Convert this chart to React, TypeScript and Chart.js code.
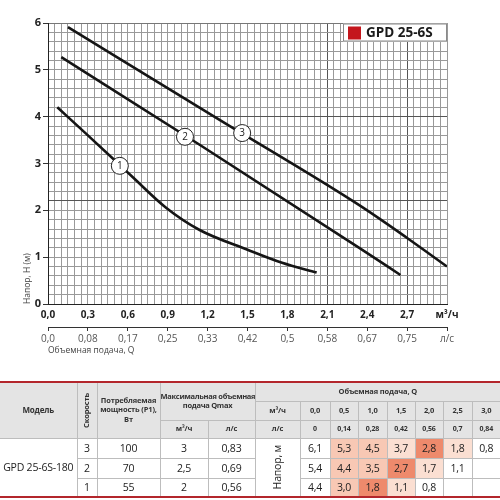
import React, { useEffect, useRef } from "react";
import { Chart, registerables } from "chart.js";

Chart.register(...registerables);

// ---- chart data ----
const flowQ1 = [0.07, 0.3, 0.55, 0.64, 0.89, 1.14, 1.5, 1.76, 2.02];
const head1 = [4.2, 3.6, 2.94, 2.7, 2.05, 1.58, 1.16, 0.88, 0.67];
const flowQ2 = [0.1, 1.14, 2.34, 2.65];
const head2 = [5.27, 3.4, 1.2, 0.62];
const flowQ3 = [0.15, 1.29, 2.34, 2.7, 3.0];
const head3 = [5.91, 3.93, 2.11, 1.41, 0.8];
const markerQ = [0.54, 1.03, 1.46];
const markerH = [2.95, 3.57, 3.65];
const markerLabels = ["1", "2", "3"];
const xTickLabelsM3h = ["0,0", "0,3", "0,6", "0,9", "1,2", "1,5", "1,8", "2,1", "2,4", "2,7", "м³/ч"];
const xTickLabelsLs = ["0,0", "0,08", "0,17", "0,25", "0,33", "0,42", "0,5", "0,58", "0,67", "0,75", "л/с"];
const legendLabel = "GPD 25-6S";

// ---- table data ----
const modelName = "GPD 25-6S-180";
const speeds = ["3", "2", "1"];
const powers = ["100", "70", "55"];
const qmaxM3h = ["3", "2,5", "2"];
const qmaxLs = ["0,83", "0,69", "0,56"];
const flowM3h = ["0,0", "0,5", "1,0", "1,5", "2,0", "2,5", "3,0"];
const flowLs = ["0", "0,14", "0,28", "0,42", "0,56", "0,7", "0,84"];
const headRows = [
  ["6,1", "5,3", "4,5", "3,7", "2,8", "1,8", "0,8"],
  ["5,4", "4,4", "3,5", "2,7", "1,7", "1,1", ""],
  ["4,4", "3,0", "1,8", "1,1", "0,8", "", ""],
];
const heatLevels = [
  [0, 2, 2, 1, 3, 1, 0],
  [0, 2, 2, 3, 1, 0, 0],
  [0, 2, 3, 1, 0, 0, 0],
];
const heatColors = ["#ffffff", "#fbdfd2", "#f8c8b4", "#ee8a6c"];
const colWidths = [77, 20, 63, 48, 47, 45, 30, 28, 29, 28, 28, 29, 28];

const toPts = (xs: number[], ys: number[]) => xs.map((x, i) => ({ x, y: ys[i] }));
const near = (v: number, t: number) => Math.abs(v - t) < 1e-6;
const isMult = (v: number, s: number) => Math.abs(v / s - Math.round(v / s)) < 1e-6;

const overlayPlugin = {
  id: "overlay",
  afterDatasetsDraw(chart: any) {
    const ctx = chart.ctx;
    const meta = chart.getDatasetMeta(3);
    ctx.save();
    ctx.font = '10px "Open Sans"';
    ctx.fillStyle = "#222";
    ctx.textAlign = "center";
    ctx.textBaseline = "middle";
    meta.data.forEach((pt: any, i: number) => {
      ctx.fillText(markerLabels[i], pt.x, pt.y + 0.5);
    });
    const { right, top } = chart.chartArea;
    const w = 104;
    const h = 18;
    const x0 = right - w;
    const y0 = top + 0.5;
    ctx.fillStyle = "#ffffff";
    ctx.fillRect(x0, y0, w, h);
    ctx.strokeStyle = "#8a8a8a";
    ctx.lineWidth = 1;
    ctx.strokeRect(x0 + 0.5, y0 + 0.5, w - 1, h - 1);
    ctx.fillStyle = "#c4161c";
    ctx.fillRect(x0 + 5, y0 + 3, 13, 13);
    ctx.fillStyle = "#1a1a1a";
    ctx.font = 'bold 13.5px "Open Sans"';
    ctx.textAlign = "left";
    ctx.fillText(legendLabel, x0 + 23, y0 + 10);
    ctx.restore();
  },
};

function PumpChart() {
  const ref = useRef<HTMLCanvasElement | null>(null);
  useEffect(() => {
    if (!ref.current) return;
    const lineDs = (xs: number[], ys: number[]) => ({
      data: toPts(xs, ys),
      showLine: true,
      borderColor: "#151515",
      borderWidth: 2.6,
      pointRadius: 0,
      cubicInterpolationMode: "monotone",
      order: 1,
    });
    const chart = new Chart(ref.current, {
      type: "scatter",
      data: {
        datasets: [
          lineDs(flowQ1, head1),
          lineDs(flowQ2, head2),
          lineDs(flowQ3, head3),
          {
            data: toPts(markerQ, markerH),
            pointRadius: 8.5,
            pointBackgroundColor: "#ffffff",
            pointBorderColor: "#222",
            pointBorderWidth: 1,
            showLine: false,
            order: 0,
          } as any,
        ] as any,
      },
      options: {
        animation: false,
        responsive: false,
        events: [],
        layout: { padding: { top: 23, right: 53, left: 0, bottom: 0 } },
        plugins: { legend: { display: false }, tooltip: { enabled: false } },
        scales: {
          x: {
            type: "linear",
            position: "bottom",
            min: 0,
            max: 3,
            weight: 0,
            afterFit: (s: any) => {
              s.height = 23;
            },
            border: { display: true, color: "#222", width: 1 },
            grid: {
              drawTicks: false,
              color: (c: any) => {
                const v = c.tick ? c.tick.value : 0;
                return near(v, 2.1) || near(v, 2.7) ? "#555" : "#999";
              },
              lineWidth: 1,
            },
            ticks: {
              stepSize: 0.05,
              autoSkip: false,
              maxRotation: 0,
              padding: 5,
              color: "#222",
              font: { family: "Open Sans", size: 10, weight: "bold" },
              callback: (v: any) => (isMult(Number(v), 0.3) ? xTickLabelsM3h[Math.round(Number(v) / 0.3)] : ""),
            },
          },
          x2: {
            type: "linear",
            position: "bottom",
            min: 0,
            max: 3,
            weight: 1,
            afterFit: (s: any) => {
              s.height = 58;
            },
            border: { display: true, color: "#333", width: 1 },
            grid: { drawOnChartArea: false, drawTicks: true, tickLength: 4, color: "#333" },
            ticks: {
              stepSize: 0.3,
              autoSkip: false,
              maxRotation: 0,
              padding: 2,
              color: "#555",
              font: { family: "Open Sans", size: 10 },
              callback: (v: any) => xTickLabelsLs[Math.round(Number(v) / 0.3)] ?? "",
            },
            title: {
              display: true,
              text: "Объемная подача, Q",
              align: "start",
              color: "#444",
              font: { family: "Open Sans", size: 8.5 },
              padding: { top: 0, bottom: 29 },
            },
          },
          y: {
            type: "linear",
            min: 0,
            max: 6,
            afterFit: (s: any) => {
              s.width = 48;
            },
            border: { display: true, color: "#222", width: 1 },
            grid: {
              drawTicks: true,
              tickLength: 5,
              tickColor: (c: any) => (c.tick && isMult(c.tick.value, 1) ? "#333" : "rgba(0,0,0,0)"),
              color: (c: any) => {
                const v = c.tick ? c.tick.value : 0;
                return near(v, 4) || near(v, 2.2) ? "#555" : near(v, 6) ? "#777" : "#999";
              },
            },
            ticks: {
              stepSize: 0.2,
              autoSkip: false,
              padding: 2,
              color: "#222",
              font: { family: "Open Sans", size: 11, weight: "bold" },
              callback: (v: any) => (isMult(Number(v), 1) ? String(Math.round(Number(v))) : ""),
            },
            title: {
              display: true,
              text: "Напор, H (м)",
              align: "start",
              color: "#444",
              font: { family: "Open Sans", size: 8.5 },
              padding: { top: 22, bottom: 0 },
            },
          },
        },
      } as any,
      plugins: [overlayPlugin as any],
    });
    return () => chart.destroy();
  }, []);
  return <canvas ref={ref} width={500} height={385} style={{ width: 500, height: 385, display: "block" }} />;
}

const thStyle: React.CSSProperties = {
  border: "1px solid #bdbdbd",
  background: "#e4e4e4",
  fontWeight: "bold",
  fontSize: 7.5,
  lineHeight: 1.3,
  padding: 0,
  textAlign: "center",
  verticalAlign: "middle",
  color: "#333",
  whiteSpace: "nowrap",
  letterSpacing: -0.15,
};
const tdStyle: React.CSSProperties = {
  border: "1px solid #bdbdbd",
  fontSize: 10.5,
  lineHeight: 1.15,
  padding: 0,
  textAlign: "center",
  verticalAlign: "middle",
  color: "#222",
  whiteSpace: "nowrap",
  letterSpacing: -0.2,
};
const vertical: React.CSSProperties = {
  writingMode: "vertical-rl",
  transform: "rotate(180deg)",
  margin: "0 auto",
  whiteSpace: "nowrap",
};

function DataTable() {
  return (
    <table
      style={{
        borderCollapse: "collapse",
        tableLayout: "fixed",
        width: 500,
        fontFamily: '"Open Sans", sans-serif',
        borderTop: "2px solid #b3262c",
        borderBottom: "2px solid #b3262c",
        borderLeft: "hidden",
        borderRight: "hidden",
      }}
    >
      <colgroup>
        {colWidths.map((w, i) => (
          <col key={i} style={{ width: w }} />
        ))}
      </colgroup>
      <thead>
        <tr style={{ height: 19 }}>
          <th rowSpan={3} style={{ ...thStyle, fontSize: 8 }}>Модель</th>
          <th rowSpan={3} style={thStyle}>
            <div style={vertical}>Скорость</div>
          </th>
          <th rowSpan={3} style={thStyle}>
            Потребляемая
            <br />
            мощность (P1),
            <br />
            Вт
          </th>
          <th colSpan={2} rowSpan={2} style={{ ...thStyle, letterSpacing: -0.3 }}>
            Максимальная объемная
            <br />
            подача Qmax
          </th>
          <th colSpan={8} style={thStyle}>Объемная подача, Q</th>
        </tr>
        <tr style={{ height: 19 }}>
          <th style={thStyle}>м³/ч</th>
          {flowM3h.map((f, i) => (
            <th key={i} style={thStyle}>{f}</th>
          ))}
        </tr>
        <tr style={{ height: 18 }}>
          <th style={thStyle}>м³/ч</th>
          <th style={thStyle}>л/с</th>
          <th style={thStyle}>л/с</th>
          {flowLs.map((f, i) => (
            <th key={i} style={{ ...thStyle, fontSize: 7 }}>{f}</th>
          ))}
        </tr>
      </thead>
      <tbody>
        {headRows.map((row, r) => (
          <tr key={r} style={{ height: r === 2 ? 19 : 20 }}>
            {r === 0 && (
              <td rowSpan={3} style={tdStyle}>{modelName}</td>
            )}
            <td style={tdStyle}>{speeds[r]}</td>
            <td style={tdStyle}>{powers[r]}</td>
            <td style={tdStyle}>{qmaxM3h[r]}</td>
            <td style={tdStyle}>{qmaxLs[r]}</td>
            {r === 0 && (
              <td rowSpan={3} style={tdStyle}>
                <div style={vertical}>Напор, м</div>
              </td>
            )}
            {row.map((v, i) => (
              <td key={i} style={{ ...tdStyle, background: heatColors[heatLevels[r][i]] }}>{v}</td>
            ))}
          </tr>
        ))}
      </tbody>
    </table>
  );
}

export default function App() {
  return (
    <div style={{ position: "absolute", left: 0, top: 0, width: 500, height: 500, background: "#fff" }}>
      <div style={{ position: "absolute", left: 0, top: 0 }}>
        <PumpChart />
      </div>
      <div style={{ position: "absolute", left: 0, top: 381 }}>
        <DataTable />
      </div>
    </div>
  );
}
